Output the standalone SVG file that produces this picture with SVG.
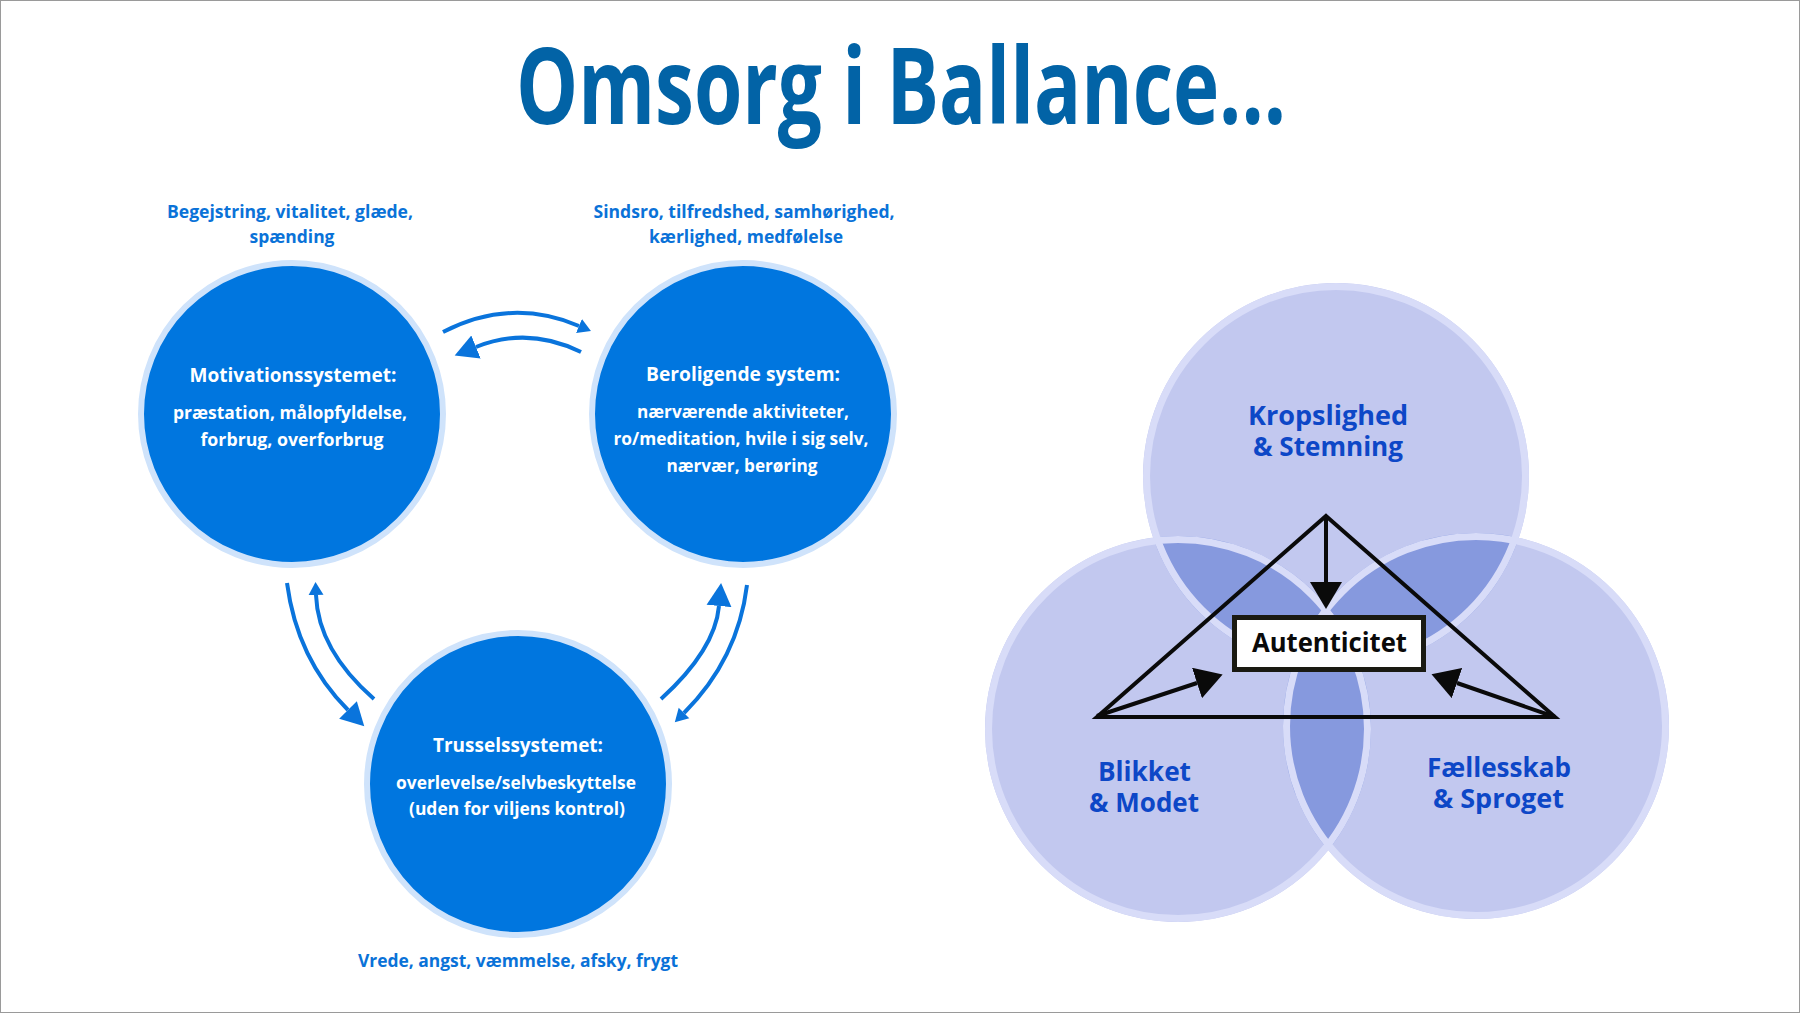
<svg xmlns="http://www.w3.org/2000/svg" width="1800" height="1013" viewBox="0 0 1800 1013">
<style>
  text { font-family: "Open Sans", "Noto Sans", "Liberation Sans", sans-serif; font-weight: 700; text-anchor: middle; }
  .title { fill: #0263a6; font-size: 105px; font-weight: 700; text-anchor: start; }
  .lbl { fill: #0a72d8; font-size: 17px; }
  .head { fill: #ffffff; font-size: 19px; }
  .body { fill: #ffffff; font-size: 17px; }
  .sys { fill: #0076df; stroke: #cfe3fb; stroke-width: 6; }
  .arr { fill: none; stroke: #0a74dc; stroke-width: 4; }
  .vfill { fill: #c2c8ef; }
  .vdark { fill: #8699de; }
  .vring { fill: none; stroke: #d8dcf8; stroke-width: 7; }
  .vlbl { fill: #0d47c7; font-size: 26px; }
  .blk { fill: none; stroke: #0a0a0a; stroke-width: 4; }
</style>
<defs>
  <marker id="bigHead" markerUnits="userSpaceOnUse" viewBox="0 -13 24 26" markerWidth="24" markerHeight="26" refX="0" refY="0" orient="auto">
    <path d="M0,-12.5 L23,0 L0,12.5 z" fill="#0a74dc"/>
  </marker>
  <marker id="smallHead" markerUnits="userSpaceOnUse" viewBox="0 -8 14 16" markerWidth="14" markerHeight="16" refX="0" refY="0" orient="auto">
    <path d="M0,-7.5 L13,0 L0,7.5 z" fill="#0a74dc"/>
  </marker>
  <marker id="blackHead" markerUnits="userSpaceOnUse" viewBox="0 -16 28 32" markerWidth="28" markerHeight="32" refX="0" refY="0" orient="auto">
    <path d="M0,-16 L27,0 L0,16 z" fill="#0a0a0a"/>
  </marker>
  <clipPath id="cT"><circle cx="1336" cy="476" r="193"/></clipPath>
  <clipPath id="cL"><circle cx="1178" cy="729" r="193"/></clipPath>
  <clipPath id="cR"><circle cx="1476" cy="726" r="193"/></clipPath>
</defs>

<rect x="0.5" y="0.5" width="1799" height="1012" fill="#ffffff" stroke="#9a9a9a" stroke-width="1"/>

<g id="title">
  <text class="title" x="516" y="124" textLength="770" lengthAdjust="spacingAndGlyphs">Omsorg i Ballance...</text>
</g>

<!-- Left: three systems -->
<g id="node-motivation">
  <circle class="sys" cx="292" cy="414" r="151"/>
  <text class="lbl" x="290" y="218" textLength="246" lengthAdjust="spacingAndGlyphs">Begejstring, vitalitet, glæde,</text>
  <text class="lbl" x="292" y="243" textLength="85" lengthAdjust="spacingAndGlyphs">spænding</text>
  <text class="head" x="293" y="382" textLength="207" lengthAdjust="spacingAndGlyphs">Motivationssystemet:</text>
  <text class="body" x="290" y="419" textLength="234" lengthAdjust="spacingAndGlyphs">præstation, målopfyldelse,</text>
  <text class="body" x="292" y="446" textLength="183" lengthAdjust="spacingAndGlyphs">forbrug, overforbrug</text>
</g>

<g id="node-beroligende">
  <circle class="sys" cx="743" cy="414" r="151"/>
  <text class="lbl" x="744" y="218" textLength="301" lengthAdjust="spacingAndGlyphs">Sindsro, tilfredshed, samhørighed,</text>
  <text class="lbl" x="746" y="243" textLength="194" lengthAdjust="spacingAndGlyphs">kærlighed, medfølelse</text>
  <text class="head" x="743" y="381" textLength="194" lengthAdjust="spacingAndGlyphs">Beroligende system:</text>
  <text class="body" x="743" y="418" textLength="212" lengthAdjust="spacingAndGlyphs">nærværende aktiviteter,</text>
  <text class="body" x="741" y="445" textLength="255" lengthAdjust="spacingAndGlyphs">ro/meditation, hvile i sig selv,</text>
  <text class="body" x="742" y="472" textLength="151" lengthAdjust="spacingAndGlyphs">nærvær, berøring</text>
</g>

<g id="node-trussel">
  <circle class="sys" cx="518" cy="784" r="151"/>
  <text class="head" x="518" y="752" textLength="170" lengthAdjust="spacingAndGlyphs">Trusselssystemet:</text>
  <text class="body" x="516" y="789" textLength="240" lengthAdjust="spacingAndGlyphs">overlevelse/selvbeskyttelse</text>
  <text class="body" x="517" y="815" textLength="216" lengthAdjust="spacingAndGlyphs">(uden for viljens kontrol)</text>
  <text class="lbl" x="518" y="967" textLength="320" lengthAdjust="spacingAndGlyphs">Vrede, angst, væmmelse, afsky, frygt</text>
</g>

<g id="connectors">
  <path class="arr" d="M443,332 Q511,297 579,326" marker-end="url(#smallHead)"/>
  <path class="arr" d="M581,352 Q528,326 476,347" marker-end="url(#bigHead)"/>
  <path class="arr" d="M287,583 Q297,659 348,710" marker-end="url(#bigHead)"/>
  <path class="arr" d="M374,699 Q318,650 316,595" marker-end="url(#smallHead)"/>
  <path class="arr" d="M661,699 Q715,650 719,606" marker-end="url(#bigHead)"/>
  <path class="arr" d="M747,585 Q738,659 684,713" marker-end="url(#smallHead)"/>
</g>

<!-- Right: Venn diagram -->
<g id="venn">
  <g id="venn-fills">
    <circle class="vfill" cx="1336" cy="476" r="193"/>
    <circle class="vfill" cx="1178" cy="729" r="193"/>
    <circle class="vfill" cx="1476" cy="726" r="193"/>
    <circle class="vdark" cx="1178" cy="729" r="193" clip-path="url(#cT)"/>
    <circle class="vdark" cx="1476" cy="726" r="193" clip-path="url(#cT)"/>
    <circle class="vdark" cx="1476" cy="726" r="193" clip-path="url(#cL)"/>
    <g clip-path="url(#cT)"><circle class="vfill" cx="1476" cy="726" r="193" clip-path="url(#cL)"/></g>
  </g>
  <g id="venn-rings">
    <circle class="vring" cx="1336" cy="476" r="189.5"/>
    <circle class="vring" cx="1178" cy="729" r="189.5"/>
    <circle class="vring" cx="1476" cy="726" r="189.5"/>
  </g>
  <g id="node-kropslighed">
    <text class="vlbl" x="1328" y="425" textLength="160" lengthAdjust="spacingAndGlyphs">Kropslighed</text>
    <text class="vlbl" x="1328" y="456" textLength="150" lengthAdjust="spacingAndGlyphs">&amp; Stemning</text>
  </g>
  <g id="node-blikket">
    <text class="vlbl" x="1144.5" y="781" textLength="93" lengthAdjust="spacingAndGlyphs">Blikket</text>
    <text class="vlbl" x="1144" y="812" textLength="110" lengthAdjust="spacingAndGlyphs">&amp; Modet</text>
  </g>
  <g id="node-faellesskab">
    <text class="vlbl" x="1499" y="777" textLength="144" lengthAdjust="spacingAndGlyphs">Fællesskab</text>
    <text class="vlbl" x="1498.5" y="808" textLength="131" lengthAdjust="spacingAndGlyphs">&amp; Sproget</text>
  </g>
</g>

<g id="triangle-connectors">
  <polygon class="blk" points="1326,516 1555,717 1097,717" stroke-linejoin="miter"/>
  <path class="blk" stroke-width="3.5" d="M1326,516 L1326,582" marker-end="url(#blackHead)"/>
  <path class="blk" stroke-width="3.5" d="M1097,716 L1197,683" marker-end="url(#blackHead)"/>
  <path class="blk" stroke-width="3.5" d="M1555,717 L1457,683" marker-end="url(#blackHead)"/>
</g>

<g id="node-autenticitet">
  <rect x="1234.5" y="617.5" width="189" height="52" fill="#ffffff" stroke="#1a1a12" stroke-width="5"/>
  <text x="1329.5" y="652" fill="#0a0a0a" font-size="26" textLength="155" lengthAdjust="spacingAndGlyphs">Autenticitet</text>
</g>
</svg>
